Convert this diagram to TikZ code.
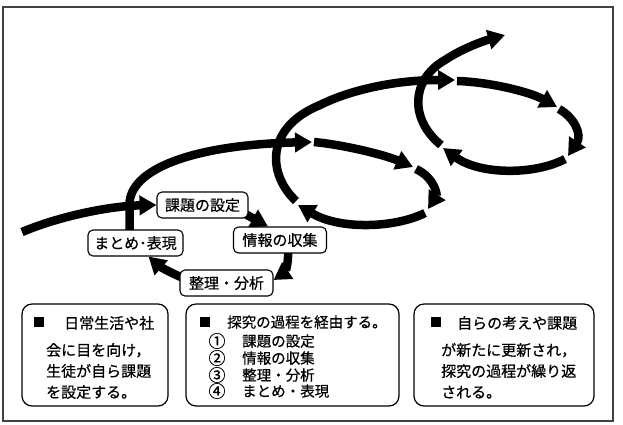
\documentclass[tikz,border=0pt]{standalone}
\usepackage{fontspec}
\setmainfont{Noto Sans CJK JP}[FakeBold=0.6,AutoFakeBold=0]
\usetikzlibrary{arrows.meta,calc}
\pgfdeclarelayer{bg}
\pgfsetlayers{bg,main}
\begin{document}
\begin{tikzpicture}[x=1pt,y=-1pt,
  flow/.style={line width=8.5pt, -{Triangle[length=17pt,width=19pt]}},
  stepbox/.style={draw, line width=1.1pt, rounded corners=5pt, fill=white,
    font=\fontsize{15}{15}\selectfont, text height=13.2pt, text depth=1.8pt,
    minimum height=26pt, inner xsep=4pt},
  infobox/.style={draw, line width=1.2pt, rounded corners=10pt, minimum height=102pt},
  frame/.style={draw=black!75, line width=1.5pt},
  bigtxt/.style={anchor=west, inner sep=0pt, font=\fontsize{15}{15}\selectfont,
    text height=13.2pt, text depth=1.8pt},
  midtxt/.style={anchor=west, inner sep=0pt, font=\fontsize{14.5}{14.5}\selectfont,
    text height=12.8pt, text depth=1.7pt},
  sq/.style={inner sep=0pt, font=\fontsize{12}{12}\selectfont},
  num/.style={inner sep=0pt, font=\fontsize{17}{17}\selectfont},
]
\useasboundingbox (0,0) rectangle (623,424);
\draw[frame] (3,7) rectangle (613,421);

% bottom boxes
\node[infobox, minimum width=146pt] (b1) at (95,355) {};
\node[infobox, minimum width=213pt] (b2) at (292.5,355) {};
\node[infobox, minimum width=180pt] (b3) at (504,355) {};

\node[sq] (s1) at (39,322) {■};
\node[bigtxt] (t1a) at (64,323) {日常生活や社};
\node[bigtxt] (t1b) at (46,350) {会に目を向け，};
\node[bigtxt] (t1c) at (46,371) {生徒が自ら課題};
\node[bigtxt] (t1d) at (46,392) {を設定する。};

\node[sq] (s2) at (205,322) {■};
\node[midtxt] (t2a) at (227,322) {探究の過程を経由する。};
\node[num] (k1) at (217,341) {①};
\node[midtxt] (t2b) at (242,341) {課題の設定};
\node[num] (k2) at (217,358) {②};
\node[midtxt] (t2c) at (242,358) {情報の収集};
\node[num] (k3) at (217,375) {③};
\node[midtxt] (t2d) at (242,375) {整理・分析};
\node[num] (k4) at (217,391) {④};
\node[midtxt] (t2e) at (242,391) {まとめ・表現};

\node[sq] (s3) at (436,322) {■};
\node[bigtxt] (t3a) at (457,323) {自らの考えや課題};
\node[bigtxt] (t3b) at (441,350) {が新たに更新され，};
\node[bigtxt] (t3c) at (441,371) {探究の過程が繰り返};
\node[bigtxt] (t3d) at (441,392) {される。};

% cycle nodes
\node[stepbox, minimum width=91pt] (n1) at (202.5,205) {課題の設定};
\node[stepbox, minimum width=93pt] (n2) at (280,240) {情報の収集};
\node[stepbox, minimum width=93pt] (n3) at (226.5,283) {整理・分析};
\node[stepbox, minimum width=95pt] (n4) at (135.5,243) {まとめ･表現};

% loop coordinates
\coordinate (a0) at (22,232);
\coordinate (c1) at (312,142);
\coordinate (c2s) at (314,142); \coordinate (c2) at (413,167);
\coordinate (c3s) at (416,169); \coordinate (c3) at (428,209);
\coordinate (c4s) at (425,213); \coordinate (c4) at (298,205);
\coordinate (c5s) at (296,201); \coordinate (c5) at (455,80);
\coordinate (d2s) at (457,81);  \coordinate (d2) at (557,107);
\coordinate (d3s) at (559,109); \coordinate (d3) at (568,156);
\coordinate (d4s) at (565,159); \coordinate (d4) at (443,148);
\coordinate (d5s) at (441,145); \coordinate (d5) at (505,35);

\begin{pgfonlayer}{bg}
\draw[flow] (a0) .. controls (60,216) and (110,206) .. (n1.west);
\draw[flow] ($(n1.south east)+(-6,-6)$) -- ($(n2.north)+(-12,0)$);
\draw[flow] ($(n2.south)+(8,-4)$) .. controls (289,265) and (284,273) .. ($(n3.east)+(0,-3)$);
\draw[flow] ($(n3.west)+(4,-5)$) .. controls (168,272) and (158,265) .. ($(n4.south east)+(-35,0)$);
\draw[flow] ($(n4.north)+(-6,4)$) -- ($(n4.north)+(-6,-25)$)
  .. controls (129.5,170) and (190,145) .. (c1);
% loop 2
\draw[flow] (c2s) .. controls (345,145) and (385,155) .. (c2);
\draw[flow] (c3s) .. controls (435,178) and (437,195) .. (c3);
\draw[flow] (c4s) .. controls (395,228) and (340,230) .. (c4);
\draw[flow] (c5s) .. controls (268,175) and (264,128) .. (320,105)
  .. controls (350,90) and (395,80) .. (c5);
% loop 3
\draw[flow] (d2s) .. controls (490,82) and (530,92) .. (d2);
\draw[flow] (d3s) .. controls (575,118) and (582,135) .. (d3);
\draw[flow] (d4s) .. controls (535,175) and (480,175) .. (d4);
\draw[flow] (d5s) .. controls (410,120) and (410,80) .. (445,60)
  .. controls (460,50) and (480,42) .. (d5);
\end{pgfonlayer}
\end{tikzpicture}
\end{document}
